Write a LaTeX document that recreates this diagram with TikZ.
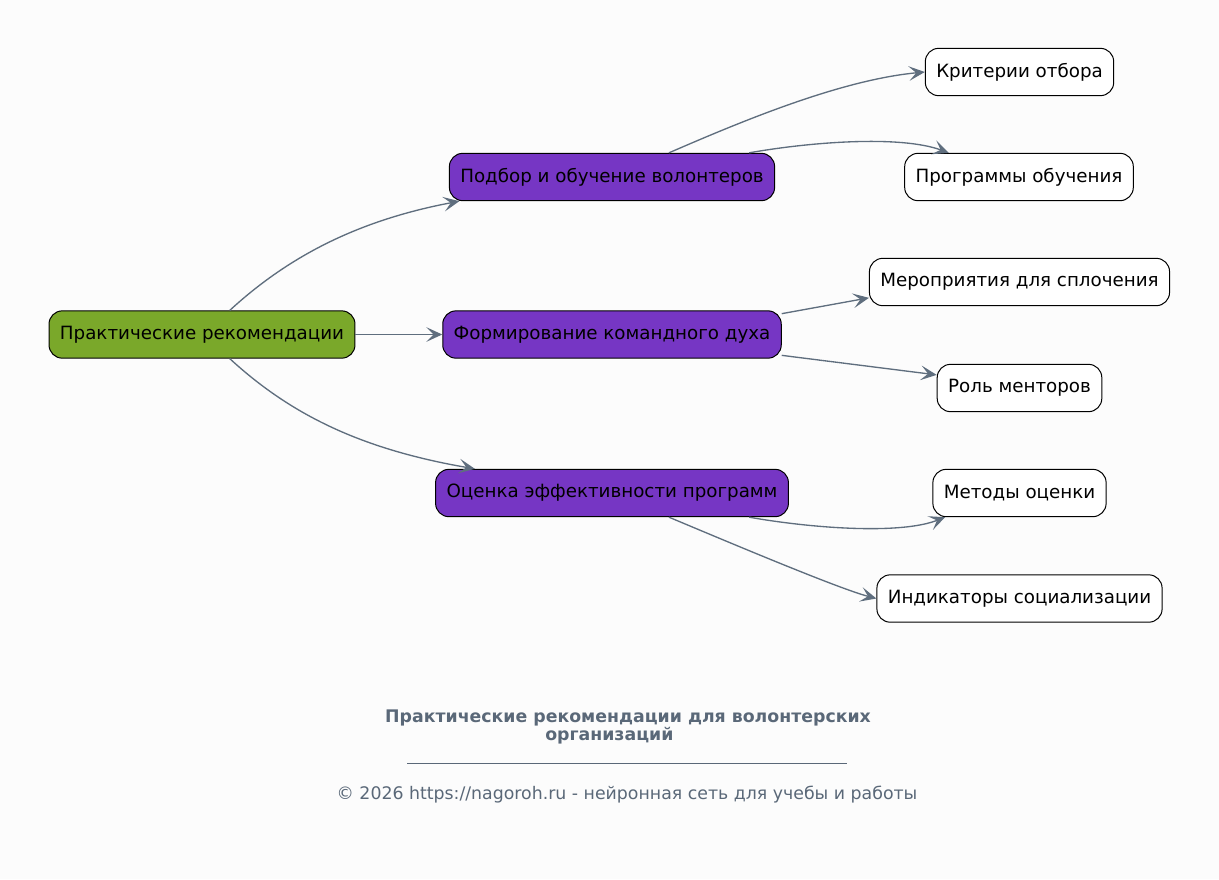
\documentclass[tikz,border=0pt]{standalone}
\usepackage{fontspec}
\setmainfont{DejaVu Sans}
\usetikzlibrary{arrows.meta}

\definecolor{rootgreen}{HTML}{7AA82A}
\definecolor{branchpurple}{HTML}{7636C4}
\definecolor{edgegrey}{HTML}{5F6E7E}
\definecolor{titlegrey}{HTML}{5A6878}
\definecolor{paper}{HTML}{FCFCFC}

\tikzset{
    box/.style={draw, line width=0.75pt, rounded corners=10pt, minimum height=35.5pt,
        inner xsep=8.2pt, font=\fontsize{13.7}{16}\selectfont},
    rootbox/.style={box, fill=rootgreen},
    branchbox/.style={box, fill=branchpurple},
    leafbox/.style={box, fill=white},
    link/.style={draw=edgegrey, line width=1pt,
        -{Stealth[length=12pt, width=11pt, inset=5.5pt]}}
}

\begin{document}
\begin{tikzpicture}[x=0.75pt, y=-0.75pt]
    \fill[paper] (0, 0) rectangle (1219, 879); % background
    \useasboundingbox (0, 0) rectangle (1219, 879);

    % Root
    \node[rootbox] (root) at (202, 334.5) {Практические рекомендации};

    % Branches
    \node[branchbox] (train) at (612, 177) {Подбор и обучение волонтеров};
    \node[branchbox] (team) at (612, 334.5) {Формирование командного духа};
    \node[branchbox] (eval) at (612, 493) {Оценка эффективности программ};

    % Leaves
    \node[leafbox] (crit) at (1019.5, 72) {Критерии отбора};
    \node[leafbox] (prog) at (1019, 177) {Программы обучения};
    \node[leafbox] (event) at (1019.5, 282) {Мероприятия для сплочения};
    \node[leafbox] (mentor) at (1019.5, 388) {Роль менторов};
    \node[leafbox] (method) at (1019.5, 493) {Методы оценки};
    \node[leafbox] (indic) at (1019.5, 598.5) {Индикаторы социализации};

    % Root to branches
    \draw[link] (root.41) .. controls (290, 255) and (360, 220) .. (train.189.6);
    \draw[link] (root.east) -- (team.west);
    \draw[link] (root.-41) .. controls (290, 414) and (360, 449) .. (eval.170.3);

    % Branches to leaves
    \draw[link] (train.23.2) .. controls (740, 122) and (840, 80) .. (crit.west);
    \draw[link] (train.10) .. controls (810, 142) and (900, 135) .. (prog.161.6);
    \draw[link] (team.7.2) -- (event.186.4);
    \draw[link] (team.-7.4) -- (mentor.171.8);
    \draw[link] (eval.-10.2) .. controls (810, 528) and (900, 535) .. (method.198.6);
    \draw[link] (eval.-23.2) .. controls (740, 547) and (840, 589) .. (indic.west);

    % Caption
    \node[text=titlegrey, font=\bfseries\fontsize{13}{13.5}\selectfont, align=center]
        (title) at (628, 727) {Практические рекомендации для волонтерских\\организаций\hspace*{28pt}};
    \draw[titlegrey, line width=0.5pt] (407, 763) -- (847, 763); % rule
    \node[text=titlegrey, font=\fontsize{13}{15}\selectfont]
        (credit) at (627, 795) {© 2026 https://nagoroh.ru - нейронная сеть для учебы и работы};
\end{tikzpicture}
\end{document}
